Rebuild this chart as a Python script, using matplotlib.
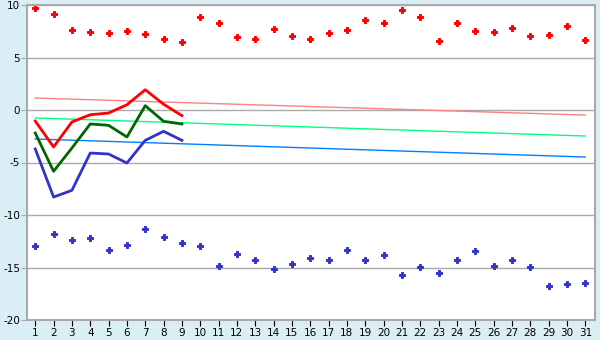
import numpy as np
import matplotlib.pyplot as plt

plt.rcParams["axes.unicode_minus"] = False

days = np.arange(1, 32)

high_pts = [9.71, 9.14, 7.62, 7.43, 7.33, 7.52, 7.24, 6.76, 6.48, 8.89,
            8.29, 6.95, 6.76, 7.71, 7.05, 6.76, 7.33, 7.62, 8.57, 8.29,
            9.52, 8.86, 6.57, 8.29, 7.52, 7.43, 7.81, 7.05, 7.14, 8.0, 6.67]
low_pts = [-12.95, -11.81, -12.38, -12.19, -13.33, -12.86, -11.33, -12.10, -12.67, -12.95,
           -14.86, -13.71, -14.29, -15.14, -14.67, -14.10, -14.29, -13.33, -14.29, -13.81,
           -15.71, -14.95, -15.52, -14.29, -13.43, -14.86, -14.29, -14.95, -16.76, -16.57, -16.48]

line_days = days[:9]
max_line = [-1.05, -3.52, -1.14, -0.45, -0.29, 0.5, 1.93, 0.55, -0.54]
mean_line = [-2.19, -5.84, -3.62, -1.33, -1.46, -2.57, 0.41, -1.08, -1.33]
min_line = [-3.71, -8.29, -7.65, -4.10, -4.19, -5.05, -2.89, -2.03, -2.89]

# long-term normals, first and last day of the month
trend_days = [1, 31]
norm_max = [1.14, -0.48]
norm_mean = [-0.76, -2.48]
norm_min = [-2.76, -4.48]

fig = plt.figure(figsize=(6, 3.4), dpi=100, facecolor="#DAEEF5")
ax = fig.add_axes([27 / 600, 20 / 340, 568 / 600, 315 / 340])
ax.set_facecolor("white")

ax.plot(trend_days, norm_max, color="#FF8080", lw=1)
ax.plot(trend_days, norm_mean, color="#00FF80", lw=1)
ax.plot(trend_days, norm_min, color="#0080FF", lw=1)

ax.plot(line_days, max_line, color="#FF0000", lw=2)
ax.plot(line_days, mean_line, color="#006600", lw=2)
ax.plot(line_days, min_line, color="#3333CC", lw=2)

ax.plot(days, high_pts, ls="none", marker="P", ms=4.8, color="#FF0000", mew=0.7)
ax.plot(days, low_pts, ls="none", marker="P", ms=4.8, color="#3333CC", mew=0.7)

ax.set_xlim(0.55, 31.53)
ax.set_ylim(-20, 10)
ax.set_xticks(days)
ax.set_yticks([-20, -15, -10, -5, 0, 5, 10])
ax.yaxis.grid(True, color="#AAAAAA", lw=1)
ax.set_axisbelow(True)
for s in ax.spines.values():
    s.set_color("#AAAAAA")
    s.set_linewidth(1.5)
ax.tick_params(axis="y", length=4, color="#AAAAAA", labelsize=7.5, pad=1)
ax.tick_params(axis="x", length=4, color="black", labelsize=7.5, pad=2)

fig.savefig("out.png", dpi=100, facecolor=fig.get_facecolor())
